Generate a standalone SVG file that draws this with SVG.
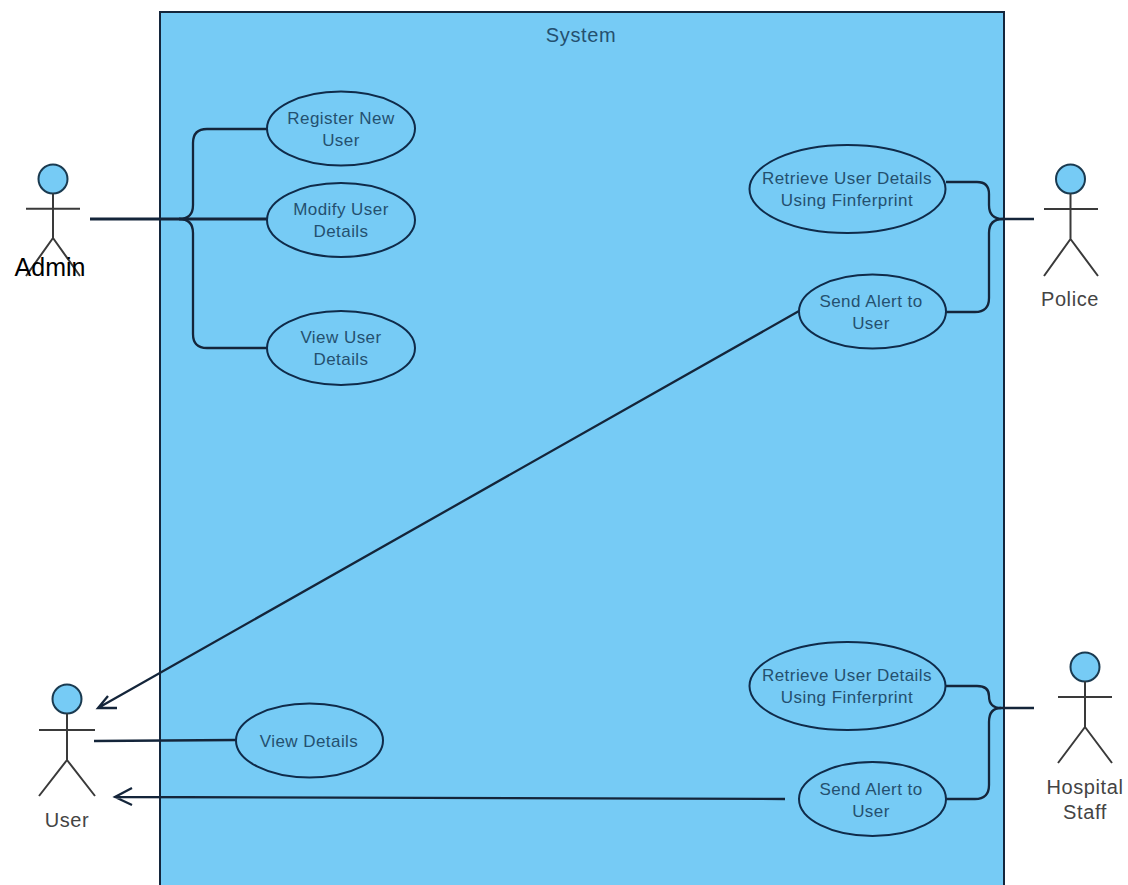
<svg xmlns="http://www.w3.org/2000/svg" width="1128" height="885" viewBox="0 0 1128 885">
<style>
text{font-family:"Liberation Sans",Arial,sans-serif;font-size:17px;letter-spacing:.45px;text-anchor:middle}
.uc ellipse{fill:#76cbf5;stroke:#0f2b4a;stroke-width:2}
.uc text{fill:#24506f}
.actor circle{fill:#76cbf5;stroke:#1a3a50;stroke-width:2}
.actor path{fill:none;stroke:#3a3a3a;stroke-width:2}
.actor text{fill:#444;font-size:20px;letter-spacing:.6px}
.c path{fill:none;stroke:#14253a;stroke-width:2.3}
</style>
<rect width="1128" height="885" fill="#fff"/>
<g id="system">
<rect x="160" y="12" width="844" height="880" fill="#76cbf5" stroke="#14263c" stroke-width="2"/>
<text x="581" y="42" fill="#24506f" style="font-size:20px;letter-spacing:.6px">System</text>
</g>
<g id="connectors" class="c">
<path d="M267 129H207Q193 129 193 143V205Q193 219 179 219"/>
<path d="M90 219H267" style="stroke-width:3"/>
<path d="M267 348H207Q193 348 193 334V233Q193 219 179 219"/>
<path d="M946 182H977Q989 182 989 194V205Q989 219 1003 219H1034"/>
<path d="M946 312H975Q989 312 989 298V233Q989 219 1003 219"/>
<path d="M946 686H977Q989 686 989 696Q989 708 1001 708H1034"/>
<path d="M946 799H975Q989 799 989 785V722Q989 708 1001 708"/>
<path d="M799 311L98 708M117 708H98L108 696"/>
<path d="M94 741L236 740"/>
<path d="M785 799L115 797M132 788L115 797L132 805"/>
</g>
<g id="uc-register" class="uc"><ellipse cx="341" cy="128.500" rx="74" ry="37"/><text x="341" y="124">Register New</text><text x="341" y="146">User</text></g>
<g id="uc-modify" class="uc"><ellipse cx="341" cy="220" rx="74" ry="37"/><text x="341" y="215">Modify User</text><text x="341" y="237">Details</text></g>
<g id="uc-view" class="uc"><ellipse cx="341" cy="348" rx="74" ry="37"/><text x="341" y="343">View User</text><text x="341" y="365">Details</text></g>
<g id="uc-retrieve-police" class="uc"><ellipse cx="847.500" cy="189" rx="98" ry="44"/><text x="847" y="184">Retrieve User Details</text><text x="847" y="206">Using Finferprint</text></g>
<g id="uc-alert-police" class="uc"><ellipse cx="872.500" cy="311.500" rx="73.500" ry="37"/><text x="871" y="307">Send Alert to</text><text x="871" y="329">User</text></g>
<g id="uc-retrieve-hospital" class="uc"><ellipse cx="847.500" cy="686" rx="98" ry="44"/><text x="847" y="681">Retrieve User Details</text><text x="847" y="703">Using Finferprint</text></g>
<g id="uc-alert-hospital" class="uc"><ellipse cx="872.500" cy="799" rx="73.500" ry="37"/><text x="871" y="795">Send Alert to</text><text x="871" y="817">User</text></g>
<g id="uc-view-details" class="uc"><ellipse cx="309.500" cy="740.500" rx="73.500" ry="37"/><text x="309" y="747">View Details</text></g>
<g id="actor-admin" class="actor"><circle cx="53" cy="179" r="14.500"/><path d="M53 193.500V238M26 208.700H80M53 238L26 276M53 238L80 276"/><text x="50" y="276" style="font-size:25px;letter-spacing:0;fill:#000">Admin</text></g>
<g id="actor-police" class="actor"><circle cx="1070.500" cy="179" r="14.500"/><path d="M1070.500 193.500V239M1044 209H1098M1070.500 239L1044 276M1070.500 239L1098 276"/><text x="1070" y="306">Police</text></g>
<g id="actor-hospital" class="actor"><circle cx="1085" cy="667" r="14.500"/><path d="M1085 681.500V727M1058 697H1112M1085 727L1058 763M1085 727L1112 763"/><text x="1085" y="794">Hospital</text><text x="1085" y="819">Staff</text></g>
<g id="actor-user" class="actor"><circle cx="67" cy="699" r="14.500"/><path d="M67 713.500V760M39 730H95M67 760L39 796M67 760L95 796"/><text x="67" y="827">User</text></g>
</svg>
